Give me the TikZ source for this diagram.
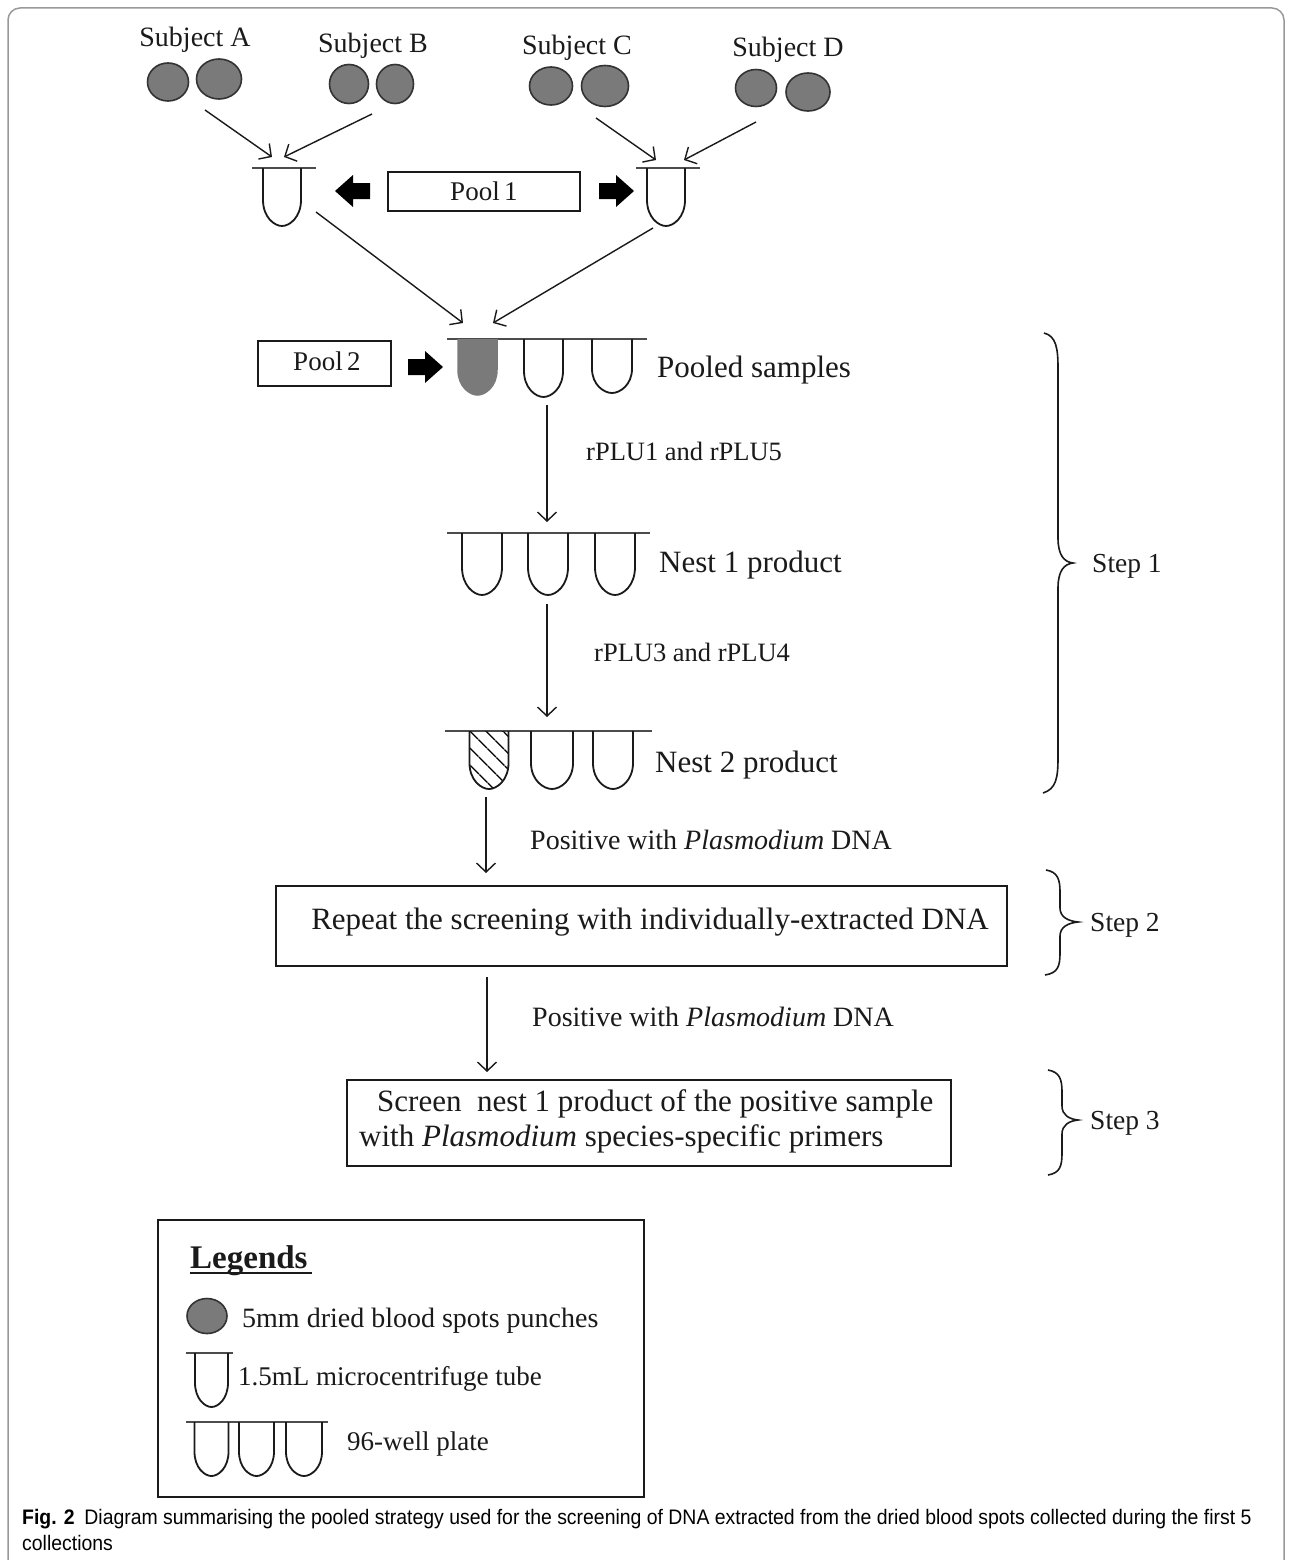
\documentclass[tikz,border=0pt]{standalone}
\usepackage{graphicx}
\usepackage{fontspec}
\setmainfont{Liberation Serif}
\newfontfamily\capfont{Liberation Sans}
\usetikzlibrary{arrows.meta,patterns.meta,shapes.geometric}
\definecolor{spotfill}{HTML}{7A7A7A}
\definecolor{spotline}{HTML}{333333}
\definecolor{ink}{HTML}{1A1A1A}
\tikzset{
  pics/well/.style args={#1/#2}{code={
    \draw[pic actions] (-#1/2,0) -- (-#1/2,#2*0.55)
      .. controls (-#1/2,#2*0.85) and (-#1*0.2,#2) .. (0,#2)
      .. controls (#1*0.2,#2) and (#1/2,#2*0.85) .. (#1/2,#2*0.55) -- (#1/2,0);
  }},
  pics/barrow/.style={code={
    \fill[pic actions] (0,-8) -- (17,-8) -- (17,-16) -- (35,0) -- (17,16) -- (17,8) -- (0,8) -- cycle;
  }},
  spot/.style={ellipse, draw=spotline, fill=spotfill, line width=1.6pt, inner sep=0pt},
  arr/.style={line width=1.4pt, draw=ink, -{Straight Barb[length=9pt,width=19pt,line width=1.4pt]}},
  wl/.style={line width=1.8pt, draw=ink},
  capline/.style={line width=2pt, draw=black!70},
  box/.style={draw=ink, line width=2pt, rectangle, inner sep=0pt},
  txt/.style={text=ink, inner sep=0pt},
}
\begin{document}
\begin{tikzpicture}[x=1pt,y=-1pt]
\useasboundingbox (0,0) rectangle (1292,1560);
\fill[white] (0,0) rectangle (1292,1560);
% outer frame
\draw[black!40, line width=1.5pt, rounded corners=12pt] (8,1575) -- (8,8) -- (1284,8) -- (1284,1575);

% subjects
\node[txt, anchor=base] (labA) at (195,47) {\fontsize{28}{32}\selectfont Subject A};
\node[txt, anchor=base] (labB) at (373,53) {\fontsize{28}{32}\selectfont Subject B};
\node[txt, anchor=base] (labC) at (577,55) {\fontsize{28}{32}\selectfont Subject C};
\node[txt, anchor=base] (labD) at (788,57) {\fontsize{28}{32}\selectfont Subject D};

\node[spot, minimum width=41pt, minimum height=38pt] (a1) at (168,82) {};
\node[spot, minimum width=45pt, minimum height=40pt] (a2) at (219,79) {};
\node[spot, minimum width=39pt, minimum height=39pt] (b1) at (349,84) {};
\node[spot, minimum width=37pt, minimum height=39pt] (b2) at (395,84) {};
\node[spot, minimum width=43pt, minimum height=38pt] (c1) at (551,86) {};
\node[spot, minimum width=47pt, minimum height=41pt] (c2) at (605,86) {};
\node[spot, minimum width=41pt, minimum height=37pt] (d1) at (756,88) {};
\node[spot, minimum width=44pt, minimum height=38pt] (d2) at (808,92) {};

% tubes
\coordinate (t1) at (282,168);
\coordinate (t2) at (666,168);
\draw[capline] (252,168) -- (316,168);
\draw[capline] (636,168) -- (700,168);
\pic[wl] at (t1) {well=38/58};
\pic[wl] at (t2) {well=38/58};

% arrows subjects -> tubes
\coordinate (sA) at (205,110); \coordinate (eA) at (272,157);
\coordinate (sB) at (372,114); \coordinate (eB) at (284,157);
\coordinate (sC) at (596,118); \coordinate (eC) at (656,160);
\coordinate (sD) at (756,122); \coordinate (eD) at (684,160);
\draw[arr] (sA) -- (eA);
\draw[arr] (sB) -- (eB);
\draw[arr] (sC) -- (eC);
\draw[arr] (sD) -- (eD);

% Pool 1
\node[box, minimum width=192pt, minimum height=39pt] (pool1) at (484,191.5) {};
\node[txt, anchor=base] (pool1t) at (484,200) {\fontsize{27}{30}\selectfont Pool\,1};
\pic at (370,191) [xscale=-1] {barrow};
\pic at (599,191) {barrow};

% arrows tubes -> plate
\coordinate (sT1) at (316,212); \coordinate (eT1) at (463,323);
\coordinate (sT2) at (653,228); \coordinate (eT2) at (493,323);
\draw[arr] (sT1) -- (eT1);
\draw[arr] (sT2) -- (eT2);

% Pooled samples plate
\coordinate (p1) at (447,339);
\draw[capline] (447,339) -- (647,339);
\pic[fill=spotfill, draw=spotfill, line width=1.5pt] at (477.5,339) {well=39/56};
\pic[wl] at (543.5,339) {well=39/58};
\pic[wl] at (612,339) {well=40/54};
\node[txt, anchor=base west] (pooled) at (657,377) {\fontsize{31}{36}\selectfont Pooled samples};
\node[box, minimum width=133pt, minimum height=45pt] (pool2) at (324.5,363.5) {};
\node[txt, anchor=base] (pool2t) at (327,370) {\fontsize{27}{30}\selectfont Pool\,2};
\pic at (408,367) {barrow};

% arrow 1
\coordinate (s1) at (547,405); \coordinate (e1) at (547,522);
\draw[arr] (s1) -- (e1);
\node[txt, anchor=base west] (r15) at (586,460) {\fontsize{26.5}{30}\selectfont rPLU1 and rPLU5};

% Nest 1 plate
\draw[capline] (447,533) -- (650,533);
\pic[wl] at (482,533) {well=40/62};
\pic[wl] at (548,533) {well=40/62};
\pic[wl] at (615,533) {well=40/62};
\node[txt, anchor=base west] (nest1) at (659,572) {\fontsize{31}{36}\selectfont Nest 1 product};

% arrow 2
\coordinate (s2) at (547,604); \coordinate (e2) at (547,717);
\draw[arr] (s2) -- (e2);
\node[txt, anchor=base west] (r34) at (594,661) {\fontsize{26.5}{30}\selectfont rPLU3 and rPLU4};

% Nest 2 plate
\draw[capline] (445,731) -- (652,731);
\pic[wl, pattern={Lines[angle=-45,distance=13pt,line width=1.5pt]}] at (489,731) {well=39/58};
\pic[wl] at (552,731) {well=42/58};
\pic[wl] at (613,731) {well=40/58};
\node[txt, anchor=base west] (nest2) at (655,772) {\fontsize{31}{36}\selectfont Nest 2 product};

% Step 1 brace
\draw[ink, line width=1.6pt] (1044,333) .. controls (1056,336) and (1058,348) .. (1058,368) -- (1058,538)
  .. controls (1058,555) and (1064,562) .. (1073,563)
  .. controls (1064,564) and (1058,571) .. (1058,588) -- (1058,758)
  .. controls (1058,778) and (1056,789) .. (1043,793);
\node[txt, anchor=base west] (step1) at (1092,572) {\fontsize{27.5}{30}\selectfont Step 1};

% arrow 3
\coordinate (s3) at (486,797); \coordinate (e3) at (486,873);
\draw[arr] (s3) -- (e3);
\node[txt, anchor=base west] (pos1) at (530,849) {\fontsize{28}{32}\selectfont Positive with \textit{Plasmodium} DNA};

% Repeat box
\node[box, minimum width=731pt, minimum height=80pt] (rep) at (641.5,926) {};
\node[txt, anchor=base] (rept) at (650,929) {\fontsize{31}{36}\selectfont Repeat the screening with individually-extracted DNA};
\draw[ink, line width=1.6pt] (1046,870) .. controls (1058,872) and (1060,880) .. (1060,892) -- (1060,908)
  .. controls (1060,917) and (1068,921) .. (1078,922)
  .. controls (1068,923) and (1060,927) .. (1060,936) -- (1060,953)
  .. controls (1060,966) and (1058,973) .. (1045,975);
\node[txt, anchor=base west] (step2) at (1090,931) {\fontsize{27.5}{30}\selectfont Step 2};

% arrow 4
\coordinate (s4) at (487,977); \coordinate (e4) at (487,1072);
\draw[arr] (s4) -- (e4);
\node[txt, anchor=base west] (pos2) at (532,1026) {\fontsize{28}{32}\selectfont Positive with \textit{Plasmodium} DNA};

% Screen box
\node[box, minimum width=604pt, minimum height=86pt] (scr) at (649,1123) {};
\node[txt, anchor=base west] (scr1) at (377,1111) {\fontsize{31}{36}\selectfont Screen\ \ nest 1 product of the positive sample};
\node[txt, anchor=base west] (scr2) at (359,1146) {\fontsize{31}{36}\selectfont with \textit{Plasmodium} species-specific primers};
\draw[ink, line width=1.6pt] (1048,1070) .. controls (1060,1072) and (1062,1080) .. (1062,1092) -- (1062,1106)
  .. controls (1062,1115) and (1069,1119) .. (1078,1120)
  .. controls (1069,1121) and (1062,1125) .. (1062,1134) -- (1062,1153)
  .. controls (1062,1166) and (1060,1173) .. (1048,1175);
\node[txt, anchor=base west] (step3) at (1090,1129) {\fontsize{27.5}{30}\selectfont Step 3};

% Legend
\node[box, minimum width=486pt, minimum height=277pt] (leg) at (400.5,1358.5) {};
\node[txt, anchor=base west] (legt) at (190,1268) {\fontsize{33}{36}\selectfont\bfseries Legends};
\draw[ink, line width=1.8pt] (190,1273) -- (312,1273);
\node[spot, minimum width=40pt, minimum height=35pt] (lspot) at (207,1316) {};
\node[txt, anchor=base west] (lspott) at (242,1327) {\fontsize{28}{32}\selectfont 5mm dried blood spots punches};
\draw[capline] (186,1353) -- (233,1353);
\pic[wl] at (211.5,1353) {well=33/54};
\node[txt, anchor=base west] (ltube) at (238,1385) {\fontsize{27}{30}\selectfont 1.5mL microcentrifuge tube};
\draw[capline] (186,1422) -- (328,1422);
\pic[wl] at (211.5,1422) {well=34/54};
\pic[wl] at (256.5,1422) {well=35/54};
\pic[wl] at (304,1422) {well=36/54};
\node[txt, anchor=base west] (lplate) at (347,1450) {\fontsize{27}{30}\selectfont 96-well plate};

% Caption
\node[anchor=base west, inner sep=0pt] (cap1) at (22,1524) {\capfont\fontsize{21}{24}\selectfont\scalebox{0.925}[1]{\textbf{Fig. 2}\enspace Diagram summarising the pooled strategy used for the screening of DNA extracted from the dried blood spots collected during the first 5}};
\node[anchor=base west, inner sep=0pt] (cap2) at (22,1550) {\capfont\fontsize{21}{24}\selectfont\scalebox{0.925}[1]{collections}};
\end{tikzpicture}
\end{document}
